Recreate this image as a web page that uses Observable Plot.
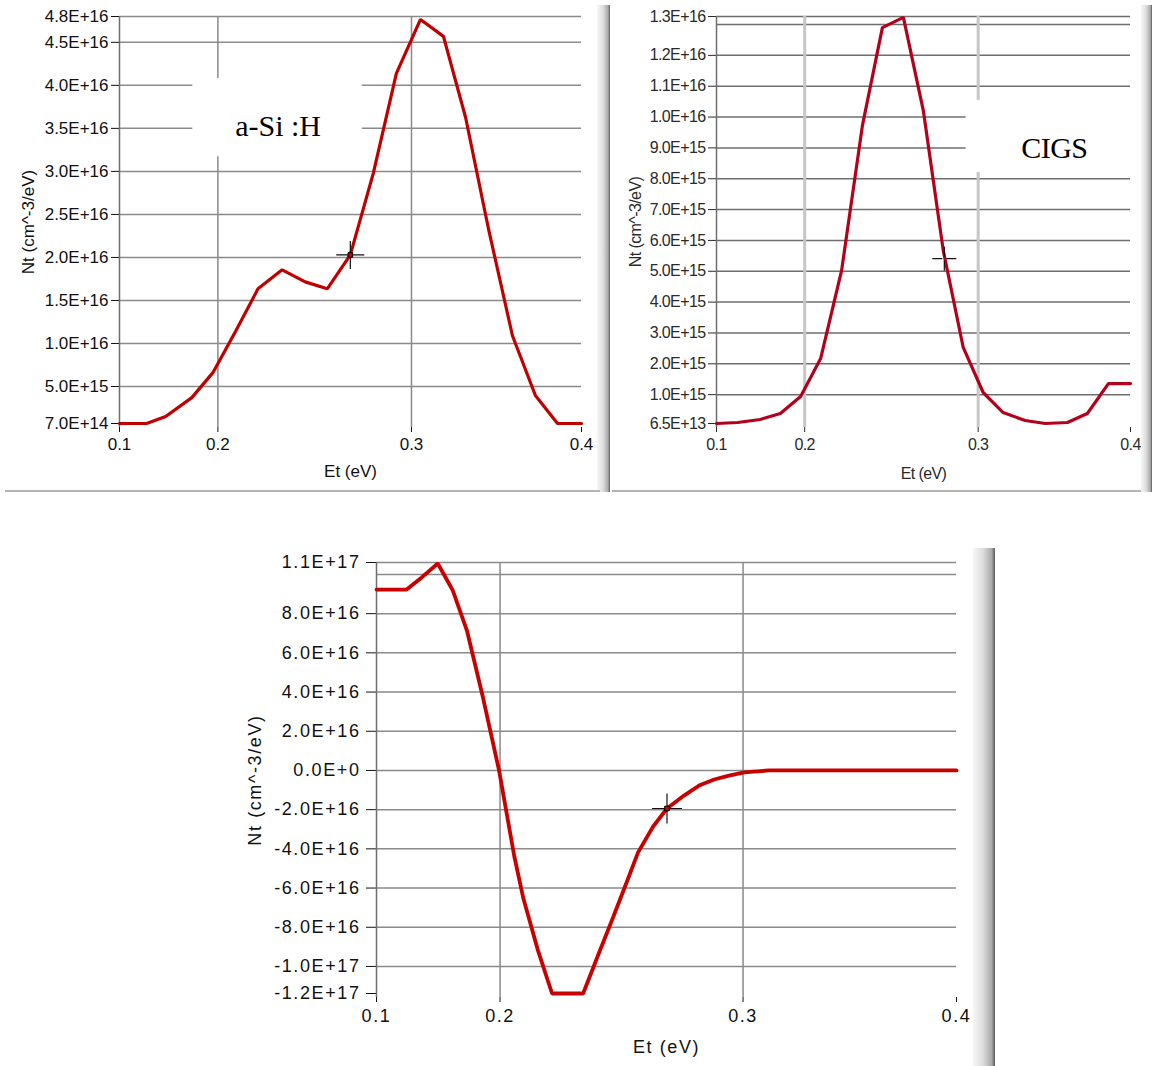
<!DOCTYPE html>
<html>
<head>
<meta charset="utf-8">
<script src="https://cdn.jsdelivr.net/npm/d3@7"></script>
<script src="https://cdn.jsdelivr.net/npm/@observablehq/plot@0.6"></script>
<style>
html,body{margin:0;padding:0;background:#fff;}
#page{position:relative;width:1152px;height:1066px;overflow:hidden;background:#fff;}
.panel{position:absolute;}
.deco{position:absolute;}
</style>
</head>
<body>
<div id="page"></div>
<script>
// ---------- shared x axis (Et, eV) ----------
const xTicks = [0.1, 0.2, 0.3, 0.4];
const xLabels = ["0.1", "0.2", "0.3", "0.4"];
const xGrid = [0.2, 0.3];
// the instrument's Et axis is piecewise: relative spacing of its tick marks
const xTickFractions = [0, 0.213, 0.632, 1];

// ---------- panel 1 : a-Si:H ----------
const et1 = [0.1, 0.1276, 0.1469, 0.1735, 0.1949, 0.2093, 0.2207, 0.2332, 0.2451, 0.2565, 0.2684, 0.2803, 0.2922, 0.3053, 0.3188, 0.3318, 0.3453, 0.3594, 0.3729, 0.3859, 0.4];
const nt1 = [7.0e14, 7.0e14, 1.51e15, 3.71e15, 6.61e15, 1.148e16, 1.635e16, 1.856e16, 1.716e16, 1.635e16, 2.029e16, 2.98e16, 4.14e16, 4.766e16, 4.569e16, 3.629e16, 2.331e16, 1.09e16, 3.95e15, 7.0e14, 7.0e14];
const yTicks1 = [7e14, 5e15, 1e16, 1.5e16, 2e16, 2.5e16, 3e16, 3.5e16, 4e16, 4.5e16, 4.8e16];
const yLabels1 = ["7.0E+14", "5.0E+15", "1.0E+16", "1.5E+16", "2.0E+16", "2.5E+16", "3.0E+16", "3.5E+16", "4.0E+16", "4.5E+16", "4.8E+16"];
const yGrid1 = [5e15, 1e16, 1.5e16, 2e16, 2.5e16, 3e16, 3.5e16, 4e16, 4.5e16, 4.8e16];
const note1 = [{label: "a-Si :H", x1: 0.1745, x2: 0.2746, y1: 3.17e16, y2: 4.08e16, tx: 0.2311, ty: 3.52e16}];
const cursor1 = [{et: 0.2684, nt: 2.029e16}];

// ---------- panel 2 : CIGS ----------
const et2 = [0.1, 0.1241, 0.1494, 0.1724, 0.1954, 0.2092, 0.2213, 0.2333, 0.2448, 0.2569, 0.2684, 0.2799, 0.2914, 0.3033, 0.3164, 0.3309, 0.3441, 0.3586, 0.3717, 0.3855, 0.4];
const nt2 = [6.5e13, 9.7e13, 1.95e14, 3.89e14, 9.4e14, 2.17e15, 5.03e15, 9.73e15, 1.29e16, 1.323e16, 1.021e16, 5.67e15, 2.53e15, 1.07e15, 4.2e14, 1.62e14, 6.5e13, 9.7e13, 3.89e14, 1.36e15, 1.36e15];
const yTicks2 = [6.5e13, 1e15, 2e15, 3e15, 4e15, 5e15, 6e15, 7e15, 8e15, 9e15, 1e16, 1.1e16, 1.2e16, 1.326e16];
const yLabels2 = ["6.5E+13", "1.0E+15", "2.0E+15", "3.0E+15", "4.0E+15", "5.0E+15", "6.0E+15", "7.0E+15", "8.0E+15", "9.0E+15", "1.0E+16", "1.1E+16", "1.2E+16", "1.3E+16"];
const yGrid2 = [1e15, 2e15, 3e15, 4e15, 5e15, 6e15, 7e15, 8e15, 9e15, 1e16, 1.1e16, 1.2e16, 1.3e16, 1.326e16];
const note2 = [{label: "CIGS", x1: 0.2931, x2: 0.403, y1: 8.2e15, y2: 1.054e16, tx: 0.35, ty: 9.0e15}];
const cursor2 = [{et: 0.2805, nt: 5.41e15}];

// ---------- panel 3 ----------
const et3 = [0.1, 0.1244, 0.1366, 0.1496, 0.1618, 0.1732, 0.1862, 0.1992, 0.2058, 0.2095, 0.2156, 0.2214, 0.2342, 0.2403, 0.2465, 0.2527, 0.2568, 0.2630, 0.2687, 0.2757, 0.2819, 0.2881, 0.2942, 0.3005, 0.3121, 0.4];
const nt3 = [9.23e16, 9.23e16, 9.85e16, 1.056e17, 9.18e16, 7.14e16, 3.72e16, 0, -4.34e16, -6.48e16, -9.18e16, -1.138e17, -1.138e17, -9.44e16, -7.50e16, -5.51e16, -4.18e16, -2.86e16, -1.94e16, -1.28e16, -7.7e15, -4.6e15, -2.6e15, -1.0e15, 0, 0];
const yTicks3 = [-1.138e17, -1e17, -8e16, -6e16, -4e16, -2e16, 0, 2e16, 4e16, 6e16, 8e16, 1.061e17];
const yLabels3 = ["-1.2E+17", "-1.0E+17", "-8.0E+16", "-6.0E+16", "-4.0E+16", "-2.0E+16", "0.0E+0", "2.0E+16", "4.0E+16", "6.0E+16", "8.0E+16", "1.1E+17"];
const yGrid3 = [-1e17, -8e16, -6e16, -4e16, -2e16, 0, 2e16, 4e16, 6e16, 8e16, 1e17, 1.061e17];
const cursor3 = [{et: 0.2687, nt: -1.94e16}];

const yTitle = "Nt (cm^-3/eV)";
const xTitle = "Et (eV)";

// piecewise Et axis warp (applied to every x value before Plot's linear x scale)
const warp = d3.scaleLinear().domain(xTicks).range(xTickFractions);
const xTickPos = xTicks.map(warp);

// cross-hair symbol (cursor marker)
const crossSymbol = {
  draw(ctx, size) {
    const r = Math.sqrt(size / Math.PI);
    ctx.moveTo(-r, 0); ctx.lineTo(-2, 0);
    ctx.moveTo(2, 0); ctx.lineTo(r, 0);
    ctx.moveTo(0, -r); ctx.lineTo(0, -2);
    ctx.moveTo(0, 2); ctx.lineTo(0, r);
  }
};

function panel(o) {
  const data = o.et.map((e, i) => ({et: e, nt: o.nt[i]}));
  const marks = [
    Plot.ruleY(o.yGrid, {stroke: o.hGrid, strokeWidth: o.hW}),
    Plot.ruleX(xGrid, {x: d => warp(d), stroke: o.vGrid, strokeWidth: o.vW}),
    Plot.ruleX([xTicks[0]], {x: d => warp(d), stroke: "#6e6e6e", strokeWidth: 1.5})
  ];
  if (o.note) {
    marks.push(Plot.rect(o.note, {x1: d => warp(d.x1), x2: d => warp(d.x2), y1: "y1", y2: "y2", fill: "white"}));
    marks.push(Plot.text(o.note, {x: d => warp(d.tx), y: "ty", text: "label", fontFamily: "'Liberation Serif', 'Times New Roman', serif", fontSize: o.noteSize, fill: "#000"}));
  }
  marks.push(Plot.line(data, {x: d => warp(d.et), y: "nt", stroke: o.color, strokeWidth: o.lineW, strokeLinejoin: "miter"}));
  marks.push(Plot.dot(o.cursor, {x: d => warp(d.et), y: "nt", symbol: crossSymbol, r: o.crossR, stroke: "#111", strokeWidth: 1.2, fill: "none"}));
  if (o.centerDot) marks.push(Plot.dot(o.cursor, {x: d => warp(d.et), y: "nt", symbol: "square", r: 2.6, fill: o.centerDot, stroke: "#000", strokeWidth: 1}));
  marks.push(Plot.text([o.yTitle], {text: d => d, frameAnchor: "left", textAnchor: "middle", lineAnchor: "middle", dx: o.yTitleDx, rotate: -90}));
  marks.push(Plot.text([o.xTitle], {text: d => d, frameAnchor: "bottom", textAnchor: "middle", lineAnchor: "middle", dy: o.xTitleDy}));
  return Plot.plot({
    width: o.width, height: o.height,
    marginLeft: o.ml, marginRight: o.mr, marginTop: o.mt, marginBottom: o.mb,
    style: {background: "transparent", fontFamily: "'Liberation Sans', Arial, sans-serif", fontSize: o.fontSize + "px", color: o.textColor, letterSpacing: o.ls, overflow: "visible"},
    x: {domain: [0, 1], ticks: xTickPos, tickFormat: d => xLabels[xTickPos.indexOf(d)], tickSize: o.xTickSize, tickPadding: o.xTickPad, label: null},
    y: {domain: [o.yTicks[0], o.yTicks[o.yTicks.length - 1]], range: o.yRange, ticks: o.yTicks, tickFormat: d => o.yLabels[o.yTicks.indexOf(d)], tickSize: o.yTickSize, tickPadding: o.yTickPad, label: null},
    marks
  });
}

const page = document.getElementById("page");
function place(node, left, top) {
  node.classList.add("panel");
  node.style.left = left + "px";
  node.style.top = top + "px";
  page.appendChild(node);
}

place(panel({
  et: et1, nt: nt1, yTicks: yTicks1, yLabels: yLabels1, yGrid: yGrid1, note: note1, noteSize: 30, cursor: cursor1,
  width: 600, height: 490, ml: 119, mr: 19, mt: 16, mb: 63,
  yRange: [423, 16],
  xTickSize: 5, xTickPad: 5, yTickSize: 8, yTickPad: 3,
  fontSize: 17, ls: "0px", textColor: "#111",
  hGrid: "#8a8a8a", hW: 1.5, vGrid: "#8a8a8a", vW: 1.5,
  color: "#c00000", lineW: 3.2, crossR: 14, centerDot: "#c00000",
  yTitle, xTitle, yTitleDx: -91, xTitleDy: 44
}), 0, 0);

place(panel({
  et: et2, nt: nt2, yTicks: yTicks2, yLabels: yLabels2, yGrid: yGrid2, note: note2, noteSize: 30, cursor: cursor2,
  width: 528, height: 490, ml: 104, mr: 10, mt: 16, mb: 63,
  yRange: [423, 16],
  xTickSize: 5, xTickPad: 6, yTickSize: 8, yTickPad: 3,
  fontSize: 16, ls: "-0.6px", textColor: "#2a2a2a",
  hGrid: "#6e6e6e", hW: 1.5, vGrid: "#c6c6c6", vW: 3,
  color: "#b3001b", lineW: 3.2, crossR: 12, centerDot: null,
  yTitle, xTitle, yTitleDx: -81, xTitleDy: 46
}), 612, 0);

place(panel({
  et: et3, nt: nt3, yTicks: yTicks3, yLabels: yLabels3, yGrid: yGrid3, note: null, cursor: cursor3,
  width: 735, height: 526, ml: 136, mr: 19, mt: 22, mb: 69,
  yRange: [453, 22],
  xTickSize: 5, xTickPad: 7, yTickSize: 10, yTickPad: 6,
  fontSize: 18, ls: "1.6px", textColor: "#111",
  hGrid: "#8a8a8a", hW: 1.5, vGrid: "#8a8a8a", vW: 1.5,
  color: "#c80000", lineW: 3.8, crossR: 15, centerDot: "#e00000",
  yTitle, xTitle, yTitleDx: -121, xTitleDy: 50
}), 240, 540);

// ---------- window-frame decorations of the screenshots ----------
function deco(left, top, width, height, bg) {
  const d = document.createElement("div");
  d.className = "deco";
  Object.assign(d.style, {left: left + "px", top: top + "px", width: width + "px", height: height + "px", background: bg});
  page.appendChild(d);
}
const barBg = "linear-gradient(to right, #f6f6f6 0%, #dedede 45%, #a9a9a9 85%, #5a5a5a 100%)";
deco(597, 5, 13, 487, barBg);
deco(5, 490, 595, 2, "#b4b4b4");
deco(1141, 5, 11, 487, barBg);
deco(612, 490, 529, 2, "#b4b4b4");
deco(973, 548, 22, 518, barBg);
</script>
</body>
</html>
